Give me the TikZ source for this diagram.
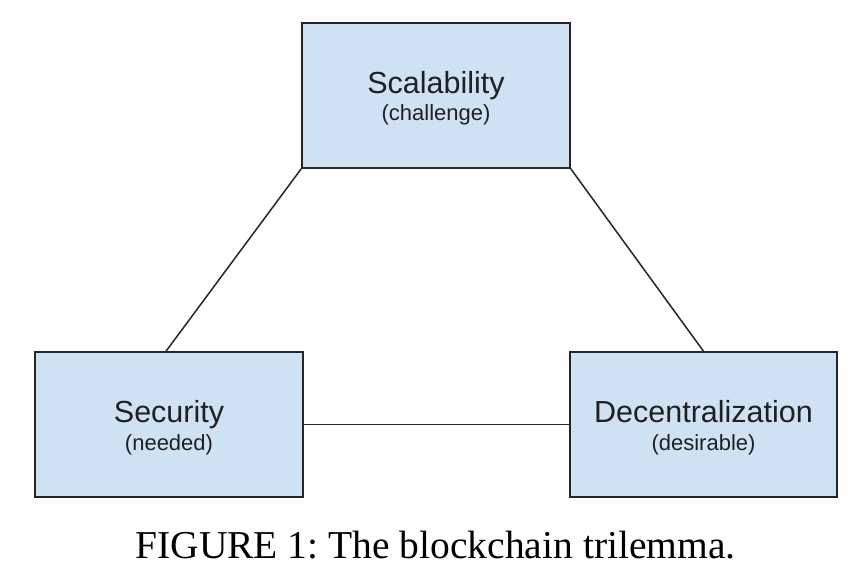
\documentclass[tikz,border=0pt]{standalone}
\usepackage{fontspec}
\usetikzlibrary{calc}
\setmainfont{Liberation Serif}
\newfontfamily\boxfont{Liberation Sans}
\definecolor{boxfill}{HTML}{CFE2F3}
\definecolor{boxline}{HTML}{262626}
\definecolor{txt}{HTML}{202020}
\begin{document}
\frenchspacing
\begin{tikzpicture}[x=1pt,y=-1pt,
  tribox/.style={draw=boxline,fill=boxfill,line width=1.5pt,minimum width=268pt,minimum height=145pt,inner sep=0pt},
  titletext/.style={anchor=base,inner sep=0pt,text=txt,font=\boxfont\fontsize{30.5}{36}\selectfont},
  subtext/.style={anchor=base,inner sep=0pt,text=txt,font=\boxfont\fontsize{22}{26}\selectfont},
  link/.style={draw=boxline,line width=1.5pt}]
\useasboundingbox (0,0) rectangle (858,588);
\fill[white] (0,0) rectangle (858,588);
\node[tribox] (sca) at (436,95.5) {};
\node[tribox] (sec) at (169,424.5) {};
\node[tribox,minimum width=267pt] (dec) at (703.5,424.5) {};
\node[titletext] (scat) at ($(sca.center)+(0,-2)$) {Scalability};
\node[subtext] (scas) at ($(sca.center)+(0,25)$) {(challenge)};
\node[titletext] (sect) at ($(sec.center)+(0,-2)$) {Security};
\node[subtext] (secs) at ($(sec.center)+(0,25.5)$) {(needed)};
\node[titletext] (dect) at ($(dec.center)+(0,-2)$) {Decentralization};
\node[subtext] (decs) at ($(dec.center)+(0,25.5)$) {(desirable)};
\coordinate (secin) at ($(sec.north)+(-3,0)$);
\draw[link] (sca.south west) -- (secin);
\draw[link] (sca.south east) -- (dec.north);
\draw[link] (sec.east) -- (dec.west);
\node[anchor=base,inner sep=0pt,font=\fontsize{39.5}{45}\selectfont] (cap) at (435.5,558) {FIGURE 1: The blockchain trilemma.};
\end{tikzpicture}
\end{document}
